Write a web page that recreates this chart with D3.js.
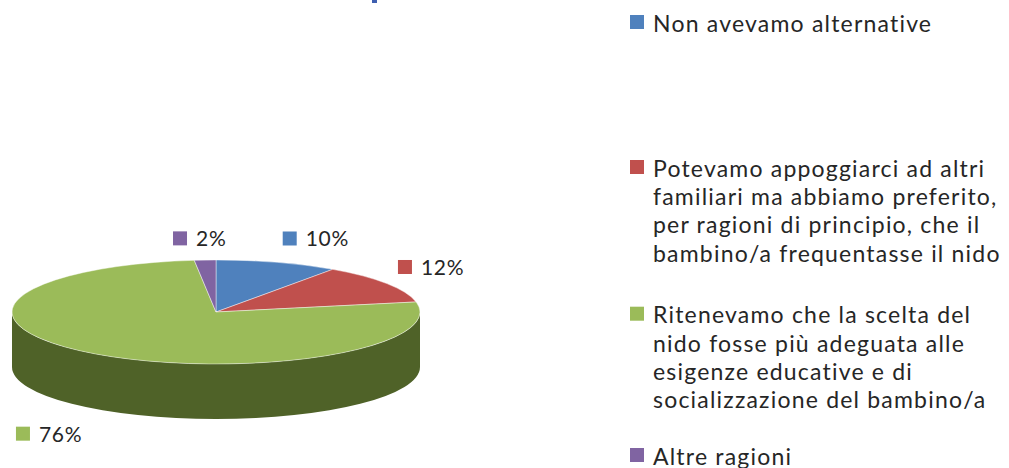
<!DOCTYPE html>
<html><head><meta charset="utf-8">
<script src="https://cdn.jsdelivr.net/npm/d3@7"></script>
<style>body{margin:0;background:#fff;} svg{display:block;}</style>
</head><body>
<svg id="chart" width="1009" height="468"></svg>
<script>
// ---- data ----
const categories = [
  "Non avevamo alternative",
  "Potevamo appoggiarci ad altri\nfamiliari ma abbiamo preferito,\nper ragioni di principio, che il\nbambino/a frequentasse il nido",
  "Ritenevamo che la scelta del\nnido fosse più adeguata alle\nesigenze educative e di\nsocializzazione del bambino/a",
  "Altre ragioni"
];
const values = [9.7, 12.2, 76.4, 1.7];

// ---- styles / layout ----
const colors = ["#4F81BD", "#C0504D", "#9BBB59", "#8064A2"];
const sideColors = ["#2C4D75", "#772C2A", "#4F6228", "#4D3B62"];
const labelOffsets = [[5.5, -23.9], [11.1, -16.6], [-79.1, 24.8], [-32.1, -21.7]];
const legendTops = [15, 160, 306.7, 448];

const cx = 216, cy = 312, rx = 204, ry = 52, depth = 55;
const svg = d3.select("#chart");

// title fragment (cut off at top in the reference)
svg.append("rect").attr("x", 372).attr("y", 0).attr("width", 5).attr("height", 3).attr("fill", "#3F5FB0");

const pie = d3.pie().sort(null).value(d => d);
const arcs = pie(values);

function pt(a, dy = 0) { return [cx + rx * Math.sin(a), cy - ry * Math.cos(a) + dy]; }

// side walls (front half only)
const sideG = svg.append("g");
arcs.forEach((d, i) => {
  const s0 = Math.max(d.startAngle, Math.PI / 2), s1 = Math.min(d.endAngle, 3 * Math.PI / 2);
  if (s1 <= s0) return;
  const p0 = pt(s0), p1 = pt(s1), q1 = pt(s1, depth), q0 = pt(s0, depth);
  const large = (s1 - s0) > Math.PI ? 1 : 0;
  const path = `M${p0}A${rx},${ry} 0 ${large} 1 ${p1}L${q1}A${rx},${ry} 0 ${large} 0 ${q0}Z`;
  sideG.append("path").attr("d", path).attr("fill", sideColors[i]);
});

// top faces via d3.arc squashed into an ellipse
const arcGen = d3.arc().innerRadius(0).outerRadius(rx);
svg.append("g")
  .attr("transform", `translate(${cx},${cy}) scale(1,${ry / rx})`)
  .selectAll("path").data(arcs).join("path")
  .attr("d", arcGen)
  .attr("fill", (d, i) => colors[i])
  .attr("stroke", "rgba(255,255,255,0.55)")
  .attr("stroke-width", 0.8)
  .attr("vector-effect", "non-scaling-stroke");

// data labels
arcs.forEach((d, i) => {
  const mid = (d.startAngle + d.endAngle) / 2;
  const front = Math.cos(mid) < 0;
  const [ax, ay] = pt(mid, front ? depth : 0);
  const ox = ax + labelOffsets[i][0], oy = ay + labelOffsets[i][1];
  const g = svg.append("g").attr("transform", `translate(${ox},${oy})`);
  g.append("rect").attr("x", 0).attr("y", -7).attr("width", 14).attr("height", 14).attr("fill", colors[i]);
  g.append("text").attr("x", 23).attr("y", 8)
    .attr("font-family", "Lato, 'Open Sans', sans-serif").attr("font-size", 21).attr("fill", "#262626")
    .attr("letter-spacing", 0.7)
    .text(Math.round(d.data) + "%");
});

// legend
categories.forEach((c, i) => {
  const g = svg.append("g").attr("transform", `translate(630,${legendTops[i]})`);
  g.append("rect").attr("width", 14).attr("height", 14).attr("fill", colors[i]);
  c.split("\n").forEach((line, j) => {
    g.append("text").attr("x", 23).attr("y", 16.7 + j * 28.3)
      .attr("font-family", "Lato, 'Open Sans', sans-serif").attr("font-size", 23).attr("fill", "#262626")
      .attr("letter-spacing", 1.2)
      .text(line);
  });
});
</script>
</body></html>
